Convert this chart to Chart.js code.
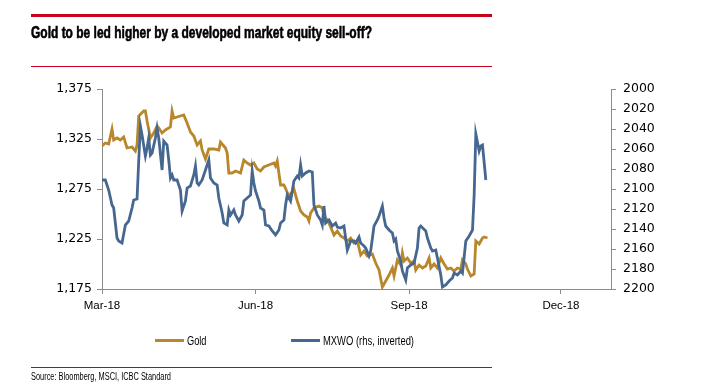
<!DOCTYPE html>
<html>
<head>
<meta charset="utf-8">
<script src="https://cdn.jsdelivr.net/npm/chart.js@4.4.1/dist/chart.umd.min.js"></script>
<style>
  html, body { margin: 0; padding: 0; background: #fff; }
  #wrap { position: relative; width: 710px; height: 389px; overflow: hidden; }
  #chart { position: absolute; left: 0; top: 0; }
  .rule { position: absolute; left: 31px; width: 461px; background: #c8001e; }
  .fit { display: inline-block; white-space: nowrap; transform-origin: left center; }
  #title {
    position: absolute; left: 31px; top: 24px; line-height: 16px;
    font: bold 16px 'Liberation Sans', Arial, sans-serif; color: #000;
    -webkit-text-stroke: 0.6px #000;
  }
  .legend { position: absolute; top: 334px; font: 12px 'Liberation Sans', Arial, sans-serif; line-height: 15px; white-space: nowrap; }
  .legend i { display: inline-block; width: 29px; height: 3px; vertical-align: middle; margin-right: 3px; position: relative; top: -1px; }
  #source {
    position: absolute; left: 31px; top: 371px; line-height: 10px;
    font: 10px 'Liberation Sans', Arial, sans-serif;
  }
</style>
</head>
<body>
<div id="wrap">
  <canvas id="chart" width="710" height="389"></canvas>
  <div class="rule" style="top:14px;height:3px"></div>
  <div id="title"><span class="fit" data-w="341">Gold to be led higher by a developed market equity sell-off?</span></div>
  <div class="rule" style="top:66px;height:1px"></div>
  <div class="legend" style="left:155px"><i style="background:#b8862b"></i><span class="fit" data-w="19.5">Gold</span></div>
  <div class="legend" style="left:291px"><i style="background:#46678f"></i><span class="fit" data-w="91">MXWO (rhs, inverted)</span></div>
  <div class="rule" style="top:367px;height:1px"></div>
  <div id="source"><span class="fit" data-w="140">Source: Bloomberg, MSCI, ICBC Standard</span></div>
</div>
<script>
/* ── DATA (x = days after 1 Mar 2018) ─────────────────────── */
const monthDays   = [0, 92, 184, 275];
const monthLabels = ['Mar-18', 'Jun-18', 'Sep-18', 'Dec-18'];

const goldDays = [
  0,2,4,6,7,9,11,13,15,18, 20,21,22,25,26,27,29,31,33,34,
  36,38,41,42,43,45,49,51,53,55, 57,59,60,62,64,67,70,71,74,75,
  76,78,80,83,85,87,89,91,93,95, 97,100,103,104,105,107,109,112,114,115,
  117,119,121,123,124,125,127,130,132,133, 135,136,139,141,143,145,147,149,151,153,
  155,157,159,162,164,166,168,170,172,174, 175,177,179,180,181,183,185,187,188,190,
  192,194,196,197,199,201,203,205,207,209, 211,213,215,216,218,219,221,223,224,226,
  228,229,231
];
const goldValues = [
  1318,1321,1320,1335,1324,1326,1324,1327,1316,1317, 1313,1319,1348,1353,1353,1343,1326,1331,1338,1336,
  1331,1334,1337,1353,1346,1347,1349,1341,1332,1328, 1319,1323,1314,1305,1315,1315,1314,1322,1316,1311,
  1291,1291,1293,1291,1304,1301,1299,1301,1295,1293, 1297,1299,1301,1298,1303,1279,1279,1268,1272,1275,
  1263,1253,1249,1247,1243,1251,1256,1258,1256,1248, 1244,1241,1229,1233,1228,1226,1223,1226,1221,1223,
  1209,1213,1208,1210,1201,1194,1177,1183,1189,1196, 1188,1204,1199,1211,1203,1206,1201,1203,1194,1199,
  1196,1198,1206,1196,1200,1196,1206,1200,1195,1196, 1193,1196,1195,1204,1200,1195,1188,1190,1223,1220,
  1226,1227,1226
];

const mxwoDays = [
  0,2,4,6,7,9,10,12,14,16, 18,19,21,22,23,24,26,27,28,29,
  30,32,33,34,36,37,39,40,41,42, 43,45,47,48,50,51,53,55,56,57,
  58,60,62,64,65,67,69,70,72,73, 75,76,77,79,80,82,84,85,87,89,
  90,91,92,94,95,97,98,100,102,104, 106,107,109,110,111,113,114,115,117,118,
  119,120,122,124,126,127,129,131,132,133, 134,136,138,140,141,143,145,147,149,151,
  152,154,155,157,158,160,161,163,165,166, 168,169,170,172,174,175,176,177,179,180,
  182,183,185,187,189,190,191,194,195,197, 198,200,201,203,204,206,208,210,211,213,
  215,216,218,220,222,223,224,226,227,228, 230
];
const mxwoValues = [
  2091,2091,2101,2116,2119,2149,2152,2154,2136,2132, 2119,2111,2110,2072,2037,2046,2067,2059,2049,2066,
  2064,2049,2039,2049,2081,2052,2056,2071,2089,2086, 2091,2091,2101,2122,2112,2099,2097,2086,2077,2094,
  2096,2091,2081,2071,2089,2094,2096,2109,2124,2134, 2136,2121,2126,2121,2126,2132,2126,2112,2109,2106,
  2082,2094,2102,2112,2119,2121,2136,2137,2142,2146, 2141,2134,2131,2116,2106,2112,2102,2092,2087,2089,
  2076,2087,2084,2082,2083,2116,2126,2131,2136,2117, 2134,2131,2137,2134,2138,2139,2137,2161,2152,2152,
  2154,2148,2154,2157,2159,2167,2162,2137,2131,2127, 2117,2129,2137,2141,2144,2152,2150,2162,2172,2182,
  2191,2179,2176,2174,2159,2139,2137,2142,2149,2159, 2162,2161,2169,2186,2198,2196,2192,2189,2184,2186,
  2182,2184,2152,2147,2141,2106,2045,2062,2057,2056, 2091
];

/* ── narrow text: squeeze HTML labels to the reference widths ── */
document.querySelectorAll('.fit').forEach(el => {
  const w = el.getBoundingClientRect().width;
  el.style.transform = 'scaleX(' + (parseFloat(el.dataset.w) / w) + ')';
});

/* ── CHART ────────────────────────────────────────────────── */
const axisGrey = '#8c8c8c';
const tickFont = { family: 'DejaVu Sans', size: 12.5 };

new Chart(document.getElementById('chart'), {
  type: 'line',
  data: {
    datasets: [
      {
        label      : 'Gold',
        data       : goldDays.map((d, i) => ({ x: d, y: goldValues[i] })),
        borderColor: '#b8862b',
        borderWidth: 2.8,
        pointRadius: 0,
        tension    : 0,
        yAxisID    : 'y',
        order      : 2,
      },
      {
        label      : 'MXWO (rhs, inverted)',
        data       : mxwoDays.map((d, i) => ({ x: d, y: mxwoValues[i] })),
        borderColor: '#46678f',
        borderWidth: 2.8,
        pointRadius: 0,
        tension    : 0,
        yAxisID    : 'y1',
        order      : 1,
      }
    ]
  },
  options: {
    responsive: false,
    animation : false,
    layout    : { padding: { top: 89, left: 0, right: 0, bottom: 0 } },
    scales: {
      x: {
        type : 'linear',
        min  : 0,
        max  : 305,
        afterBuildTicks: s => { s.ticks = monthDays.map(v => ({ value: v })); },
        afterFit: s => { s.height = 100; },
        ticks : {
          callback: v => monthLabels[monthDays.indexOf(v)],
          font    : { family: "'Liberation Sans', Arial, sans-serif", size: 11.5 },
          color   : '#000',
          padding : 5,
          maxRotation: 0,
          autoSkip: false,
        },
        grid  : { drawOnChartArea: false, tickLength: 5, color: axisGrey },
        border: { color: axisGrey },
      },
      y: {
        position: 'left',
        min : 1175,
        max : 1375,
        afterFit: s => { s.width = 102; },
        ticks : {
          stepSize: 50,
          callback: v => v.toLocaleString('en-US'),
          font    : tickFont,
          color   : '#000',
          padding : 5,
        },
        grid  : { drawOnChartArea: false, tickLength: 5, color: axisGrey },
        border: { color: axisGrey },
      },
      y1: {
        position: 'right',
        reverse : true,
        min : 2000,
        max : 2200,
        afterFit: s => { s.width = 99; },
        ticks : {
          stepSize: 20,
          callback: v => String(v),
          font    : tickFont,
          color   : '#000',
          padding : 7,
        },
        grid  : { drawOnChartArea: false, tickLength: 5, color: axisGrey },
        border: { color: axisGrey },
      }
    },
    plugins: {
      legend : { display: false },
      tooltip: { enabled: false }
    }
  }
});
</script>
</body>
</html>
